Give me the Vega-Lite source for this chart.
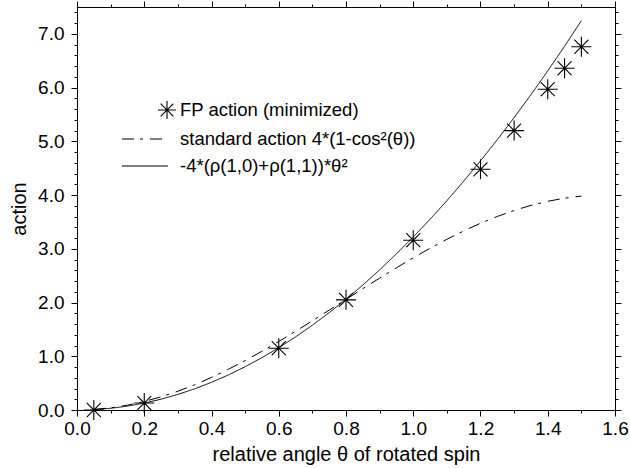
{
  "$schema": "https://vega.github.io/schema/vega-lite/v6.json",
  "width": 538,
  "height": 403,
  "autosize": "none",
  "padding": {"left": 77, "top": 7, "right": 15, "bottom": 58},
  "background": "white",
  "config": {
    "view": {"stroke": "black", "strokeWidth": 1},
    "font": "Liberation Sans",
    "axis": {
      "grid": false,
      "labelFont": "Liberation Sans",
      "labelFontSize": 19,
      "labelColor": "black",
      "labelFlush": false,
      "labelOverlap": false,
      "titleFont": "Liberation Sans",
      "titleFontSize": 20,
      "titleFontWeight": "normal",
      "titleColor": "black",
      "tickColor": "black",
      "domainColor": "black",
      "tickWidth": 1
    },
    "legend": {
      "orient": "none",
      "legendX": 80,
      "legendY": 93,
      "labelFont": "Liberation Sans",
      "labelFontSize": 18.5,
      "labelColor": "black",
      "symbolSize": 324,
      "symbolStrokeColor": "black",
      "symbolStrokeWidth": 1.1,
      "symbolFillColor": "transparent",
      "labelOffset": 3,
      "rowPadding": 7,
      "padding": 0,
      "labelLimit": 400
    }
  },
  "datasets": {
    "fp": [
      {"theta": 0.05, "action": 0.0, "series": "FP action (minimized)"},
      {"theta": 0.2, "action": 0.13, "series": "FP action (minimized)"},
      {"theta": 0.6, "action": 1.15, "series": "FP action (minimized)"},
      {"theta": 0.8, "action": 2.05, "series": "FP action (minimized)"},
      {"theta": 1.0, "action": 3.16, "series": "FP action (minimized)"},
      {"theta": 1.2, "action": 4.48, "series": "FP action (minimized)"},
      {"theta": 1.3, "action": 5.2, "series": "FP action (minimized)"},
      {"theta": 1.4, "action": 5.97, "series": "FP action (minimized)"},
      {"theta": 1.45, "action": 6.36, "series": "FP action (minimized)"},
      {"theta": 1.5, "action": 6.76, "series": "FP action (minimized)"}
    ],
    "std": [
      {"theta": 0.05, "action": 0.010, "series": "standard action 4*(1-cos²(θ))"},
      {"theta": 0.1, "action": 0.040, "series": "standard action 4*(1-cos²(θ))"},
      {"theta": 0.15, "action": 0.089, "series": "standard action 4*(1-cos²(θ))"},
      {"theta": 0.2, "action": 0.158, "series": "standard action 4*(1-cos²(θ))"},
      {"theta": 0.25, "action": 0.245, "series": "standard action 4*(1-cos²(θ))"},
      {"theta": 0.3, "action": 0.349, "series": "standard action 4*(1-cos²(θ))"},
      {"theta": 0.35, "action": 0.470, "series": "standard action 4*(1-cos²(θ))"},
      {"theta": 0.4, "action": 0.607, "series": "standard action 4*(1-cos²(θ))"},
      {"theta": 0.45, "action": 0.757, "series": "standard action 4*(1-cos²(θ))"},
      {"theta": 0.5, "action": 0.919, "series": "standard action 4*(1-cos²(θ))"},
      {"theta": 0.55, "action": 1.093, "series": "standard action 4*(1-cos²(θ))"},
      {"theta": 0.6, "action": 1.275, "series": "standard action 4*(1-cos²(θ))"},
      {"theta": 0.65, "action": 1.465, "series": "standard action 4*(1-cos²(θ))"},
      {"theta": 0.7, "action": 1.660, "series": "standard action 4*(1-cos²(θ))"},
      {"theta": 0.75, "action": 1.859, "series": "standard action 4*(1-cos²(θ))"},
      {"theta": 0.8, "action": 2.058, "series": "standard action 4*(1-cos²(θ))"},
      {"theta": 0.85, "action": 2.258, "series": "standard action 4*(1-cos²(θ))"},
      {"theta": 0.9, "action": 2.454, "series": "standard action 4*(1-cos²(θ))"},
      {"theta": 0.95, "action": 2.647, "series": "standard action 4*(1-cos²(θ))"},
      {"theta": 1.0, "action": 2.832, "series": "standard action 4*(1-cos²(θ))"},
      {"theta": 1.05, "action": 3.010, "series": "standard action 4*(1-cos²(θ))"},
      {"theta": 1.1, "action": 3.177, "series": "standard action 4*(1-cos²(θ))"},
      {"theta": 1.15, "action": 3.333, "series": "standard action 4*(1-cos²(θ))"},
      {"theta": 1.2, "action": 3.475, "series": "standard action 4*(1-cos²(θ))"},
      {"theta": 1.25, "action": 3.602, "series": "standard action 4*(1-cos²(θ))"},
      {"theta": 1.3, "action": 3.714, "series": "standard action 4*(1-cos²(θ))"},
      {"theta": 1.35, "action": 3.808, "series": "standard action 4*(1-cos²(θ))"},
      {"theta": 1.4, "action": 3.884, "series": "standard action 4*(1-cos²(θ))"},
      {"theta": 1.45, "action": 3.942, "series": "standard action 4*(1-cos²(θ))"},
      {"theta": 1.5, "action": 3.980, "series": "standard action 4*(1-cos²(θ))"}
    ],
    "fit": [
      {"theta": 0.05, "action": 0.008, "series": "-4*(ρ(1,0)+ρ(1,1))*θ²"},
      {"theta": 0.1, "action": 0.032, "series": "-4*(ρ(1,0)+ρ(1,1))*θ²"},
      {"theta": 0.15, "action": 0.072, "series": "-4*(ρ(1,0)+ρ(1,1))*θ²"},
      {"theta": 0.2, "action": 0.129, "series": "-4*(ρ(1,0)+ρ(1,1))*θ²"},
      {"theta": 0.25, "action": 0.201, "series": "-4*(ρ(1,0)+ρ(1,1))*θ²"},
      {"theta": 0.3, "action": 0.290, "series": "-4*(ρ(1,0)+ρ(1,1))*θ²"},
      {"theta": 0.35, "action": 0.394, "series": "-4*(ρ(1,0)+ρ(1,1))*θ²"},
      {"theta": 0.4, "action": 0.515, "series": "-4*(ρ(1,0)+ρ(1,1))*θ²"},
      {"theta": 0.45, "action": 0.652, "series": "-4*(ρ(1,0)+ρ(1,1))*θ²"},
      {"theta": 0.5, "action": 0.805, "series": "-4*(ρ(1,0)+ρ(1,1))*θ²"},
      {"theta": 0.55, "action": 0.974, "series": "-4*(ρ(1,0)+ρ(1,1))*θ²"},
      {"theta": 0.6, "action": 1.159, "series": "-4*(ρ(1,0)+ρ(1,1))*θ²"},
      {"theta": 0.65, "action": 1.360, "series": "-4*(ρ(1,0)+ρ(1,1))*θ²"},
      {"theta": 0.7, "action": 1.578, "series": "-4*(ρ(1,0)+ρ(1,1))*θ²"},
      {"theta": 0.75, "action": 1.811, "series": "-4*(ρ(1,0)+ρ(1,1))*θ²"},
      {"theta": 0.8, "action": 2.061, "series": "-4*(ρ(1,0)+ρ(1,1))*θ²"},
      {"theta": 0.85, "action": 2.326, "series": "-4*(ρ(1,0)+ρ(1,1))*θ²"},
      {"theta": 0.9, "action": 2.608, "series": "-4*(ρ(1,0)+ρ(1,1))*θ²"},
      {"theta": 0.95, "action": 2.906, "series": "-4*(ρ(1,0)+ρ(1,1))*θ²"},
      {"theta": 1.0, "action": 3.220, "series": "-4*(ρ(1,0)+ρ(1,1))*θ²"},
      {"theta": 1.05, "action": 3.550, "series": "-4*(ρ(1,0)+ρ(1,1))*θ²"},
      {"theta": 1.1, "action": 3.896, "series": "-4*(ρ(1,0)+ρ(1,1))*θ²"},
      {"theta": 1.15, "action": 4.258, "series": "-4*(ρ(1,0)+ρ(1,1))*θ²"},
      {"theta": 1.2, "action": 4.637, "series": "-4*(ρ(1,0)+ρ(1,1))*θ²"},
      {"theta": 1.25, "action": 5.031, "series": "-4*(ρ(1,0)+ρ(1,1))*θ²"},
      {"theta": 1.3, "action": 5.442, "series": "-4*(ρ(1,0)+ρ(1,1))*θ²"},
      {"theta": 1.35, "action": 5.868, "series": "-4*(ρ(1,0)+ρ(1,1))*θ²"},
      {"theta": 1.4, "action": 6.311, "series": "-4*(ρ(1,0)+ρ(1,1))*θ²"},
      {"theta": 1.45, "action": 6.770, "series": "-4*(ρ(1,0)+ρ(1,1))*θ²"},
      {"theta": 1.5, "action": 7.245, "series": "-4*(ρ(1,0)+ρ(1,1))*θ²"}
    ]
  },
  "layer": [
    {
      "data": {"name": "fp"},
      "transform": [{"filter": "datum.theta < 1"}],
      "mark": {"type": "point", "filled": false, "color": "black", "strokeWidth": 1.1, "size": 400, "opacity": 1},
      "encoding": {
        "x": {"field": "theta", "type": "quantitative", "scale": {"domain": [0, 1.6], "nice": false},
          "axis": {"orient": "bottom", "values": [0,0.2,0.4,0.6,0.8,1.0,1.2,1.4,1.6], "format": ".1f", "ticks": false, "domain": false, "labelPadding": 9, "title": "relative angle θ of rotated spin", "titlePadding": 6}},
        "y": {"field": "action", "type": "quantitative", "scale": {"domain": [0, 7.5], "nice": false},
          "axis": {"orient": "left", "values": [0,1,2,3,4,5,6,7], "format": ".1f", "ticks": false, "domain": false, "labelPadding": 13, "title": "action", "titlePadding": 8}},
        "shape": {"field": "series", "type": "nominal",
          "scale": {"domain": ["FP action (minimized)", "standard action 4*(1-cos²(θ))", "-4*(ρ(1,0)+ρ(1,1))*θ²"],
            "range": ["M-1,0L1,0M0,-1L0,1M-0.7,-0.7L0.7,0.7M-0.7,0.7L0.7,-0.7", "M-5,0L0.1,0", "M-5,0L0.1,0"]},
          "legend": {"title": null}},
        "strokeDash": {"field": "series", "type": "nominal",
          "scale": {"domain": ["FP action (minimized)", "standard action 4*(1-cos²(θ))", "-4*(ρ(1,0)+ρ(1,1))*θ²"], "range": [[1, 0], [12, 6, 3, 7], [1, 0]]},
          "legend": {"title": null}}
      }
    },
    {
      "data": {"name": "fp"},
      "transform": [{"filter": "datum.theta >= 1"}],
      "mark": {"type": "point", "filled": false, "color": "black", "strokeWidth": 1.1, "size": 400, "opacity": 1},
      "encoding": {
        "x": {"field": "theta", "type": "quantitative", "scale": {"domain": [0, 1.6], "nice": false},
          "axis": {"orient": "bottom", "values": [0,0.2,0.4,0.6,0.8,1.0,1.2,1.4,1.6], "labels": false, "domain": true, "title": null, "ticks": true, "tickSize": 6}},
        "y": {"field": "action", "type": "quantitative", "scale": {"domain": [0, 7.5], "nice": false},
          "axis": {"orient": "left", "values": [0,1,2,3,4,5,6,7], "labels": false, "domain": true, "title": null, "ticks": true, "tickSize": 6}},
        "shape": {"field": "series", "type": "nominal",
          "scale": {"domain": ["FP action (minimized)", "standard action 4*(1-cos²(θ))", "-4*(ρ(1,0)+ρ(1,1))*θ²"],
            "range": ["M-1,0L1,0M0,-1L0,1M-0.7,-0.7L0.7,0.7M-0.7,0.7L0.7,-0.7", "M-5,0L0.1,0", "M-5,0L0.1,0"]},
          "legend": {"title": null}},
        "strokeDash": {"field": "series", "type": "nominal",
          "scale": {"domain": ["FP action (minimized)", "standard action 4*(1-cos²(θ))", "-4*(ρ(1,0)+ρ(1,1))*θ²"], "range": [[1, 0], [12, 6, 3, 7], [1, 0]]},
          "legend": {"title": null}}
      }
    },
    {
      "data": {"name": "std"},
      "mark": {"type": "line", "color": "black", "strokeWidth": 1},
      "encoding": {
        "x": {"field": "theta", "type": "quantitative", "scale": {"domain": [0, 1.6], "nice": false},
          "axis": {"orient": "bottom", "values": [0.1,0.3,0.5,0.7,0.9,1.1,1.3,1.5], "labels": false, "domain": true, "title": null, "ticks": true, "tickSize": 3}},
        "y": {"field": "action", "type": "quantitative", "scale": {"domain": [0, 7.5], "nice": false},
          "axis": {"orient": "left", "values": [0.2,0.4,0.6,0.8,1.2,1.4,1.6,1.8,2.2,2.4,2.6,2.8,3.2,3.4,3.6,3.8,4.2,4.4,4.6,4.8,5.2,5.4,5.6,5.8,6.2,6.4,6.6,6.8,7.2,7.4], "labels": false, "domain": true, "title": null, "ticks": true, "tickSize": 3}},
        "strokeDash": {"field": "series", "type": "nominal",
          "scale": {"domain": ["FP action (minimized)", "standard action 4*(1-cos²(θ))", "-4*(ρ(1,0)+ρ(1,1))*θ²"], "range": [[1, 0], [12, 6, 3, 7], [1, 0]]}}
      }
    },
    {
      "data": {"name": "fit"},
      "transform": [{"filter": "datum.theta <= 0.8"}],
      "mark": {"type": "line", "color": "black", "strokeWidth": 1},
      "encoding": {
        "x": {"field": "theta", "type": "quantitative", "scale": {"domain": [0, 1.6], "nice": false},
          "axis": {"orient": "top", "values": [0,0.2,0.4,0.6,0.8,1.0,1.2,1.4,1.6], "labels": false, "domain": true, "title": null, "ticks": true, "tickSize": 6}},
        "y": {"field": "action", "type": "quantitative", "scale": {"domain": [0, 7.5], "nice": false},
          "axis": {"orient": "right", "values": [0,1,2,3,4,5,6,7], "labels": false, "domain": true, "title": null, "ticks": true, "tickSize": 6}},
        "strokeDash": {"field": "series", "type": "nominal",
          "scale": {"domain": ["FP action (minimized)", "standard action 4*(1-cos²(θ))", "-4*(ρ(1,0)+ρ(1,1))*θ²"], "range": [[1, 0], [12, 6, 3, 7], [1, 0]]}}
      }
    },
    {
      "data": {"name": "fit"},
      "transform": [{"filter": "datum.theta >= 0.8"}],
      "mark": {"type": "line", "color": "black", "strokeWidth": 1},
      "encoding": {
        "x": {"field": "theta", "type": "quantitative", "scale": {"domain": [0, 1.6], "nice": false},
          "axis": {"orient": "top", "values": [0.1,0.3,0.5,0.7,0.9,1.1,1.3,1.5], "labels": false, "domain": true, "title": null, "ticks": true, "tickSize": 3}},
        "y": {"field": "action", "type": "quantitative", "scale": {"domain": [0, 7.5], "nice": false},
          "axis": {"orient": "right", "values": [0.2,0.4,0.6,0.8,1.2,1.4,1.6,1.8,2.2,2.4,2.6,2.8,3.2,3.4,3.6,3.8,4.2,4.4,4.6,4.8,5.2,5.4,5.6,5.8,6.2,6.4,6.6,6.8,7.2,7.4], "labels": false, "domain": true, "title": null, "ticks": true, "tickSize": 3}},
        "strokeDash": {"field": "series", "type": "nominal",
          "scale": {"domain": ["FP action (minimized)", "standard action 4*(1-cos²(θ))", "-4*(ρ(1,0)+ρ(1,1))*θ²"], "range": [[1, 0], [12, 6, 3, 7], [1, 0]]}}
      }
    }
  ],
  "resolve": {"axis": {"x": "independent", "y": "independent"}}
}
